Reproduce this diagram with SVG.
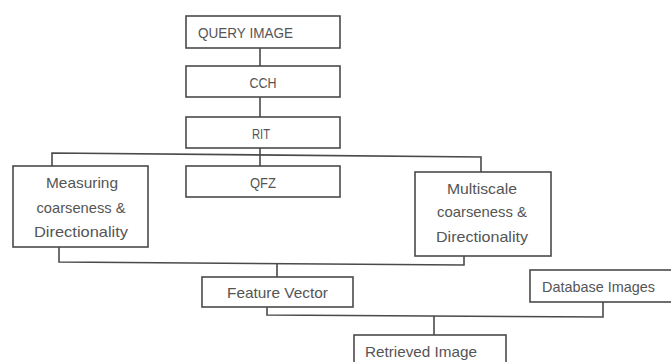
<svg xmlns="http://www.w3.org/2000/svg" width="671" height="362" viewBox="0 0 671 362">
<style>
.box{fill:#fff;stroke:#4a4a4a;stroke-width:1.6}
.c{fill:none;stroke:#4a4a4a;stroke-width:1.6}
text{font-family:"Liberation Sans",Arial,sans-serif;font-size:14.5px;fill:#555}
.m{text-anchor:middle}
</style>
<rect width="671" height="362" fill="#fff"/>
<g id="connectors">
<path class="c" d="M260 48V66"/>
<path class="c" d="M260 97V117"/>
<path class="c" d="M260 148V166"/>
<path class="c" d="M52 166V153L481 157V172"/>
<path class="c" d="M59 247V262L464 265V256"/>
<path class="c" d="M277 263.5V277"/>
<path class="c" d="M267 307V315L603 317V302"/>
<path class="c" d="M434 316V335"/>
</g>
<g id="query"><rect class="box" x="186" y="16" width="154" height="32"/><text x="198" y="37.5" textLength="95" lengthAdjust="spacingAndGlyphs">QUERY IMAGE</text></g>
<g id="cch"><rect class="box" x="186" y="66" width="154" height="31"/><text class="m" x="263" y="87.5" textLength="27" lengthAdjust="spacingAndGlyphs">CCH</text></g>
<g id="rit"><rect class="box" x="186" y="117" width="154" height="31"/><text class="m" x="261" y="138.5" textLength="18" lengthAdjust="spacingAndGlyphs">RIT</text></g>
<g id="qfz"><rect class="box" x="186" y="166" width="154" height="31"/><text class="m" x="263" y="187.5" textLength="26" lengthAdjust="spacingAndGlyphs">QFZ</text></g>
<g id="measuring"><rect class="box" x="13" y="166" width="135" height="81"/>
<text class="m" x="82" y="188" textLength="72" lengthAdjust="spacingAndGlyphs">Measuring</text>
<text class="m" x="81" y="213" textLength="89" lengthAdjust="spacingAndGlyphs">coarseness &amp;</text>
<text class="m" x="81" y="237" textLength="94" lengthAdjust="spacingAndGlyphs">Directionality</text></g>
<g id="multiscale"><rect class="box" x="415" y="172" width="136" height="84"/>
<text class="m" x="482" y="194" textLength="70" lengthAdjust="spacingAndGlyphs">Multiscale</text>
<text class="m" x="482" y="217" textLength="90" lengthAdjust="spacingAndGlyphs">coarseness &amp;</text>
<text class="m" x="482" y="242" textLength="92" lengthAdjust="spacingAndGlyphs">Directionality</text></g>
<g id="feature"><rect class="box" x="202" y="277" width="151" height="30"/><text x="227" y="298" textLength="101" lengthAdjust="spacingAndGlyphs">Feature Vector</text></g>
<g id="database"><rect class="box" x="530" y="270" width="150" height="32"/><text x="542" y="292" textLength="113" lengthAdjust="spacingAndGlyphs">Database Images</text></g>
<g id="retrieved"><rect class="box" x="354" y="335" width="152" height="40"/><text x="365" y="357" textLength="112" lengthAdjust="spacingAndGlyphs">Retrieved Image</text></g>
</svg>
